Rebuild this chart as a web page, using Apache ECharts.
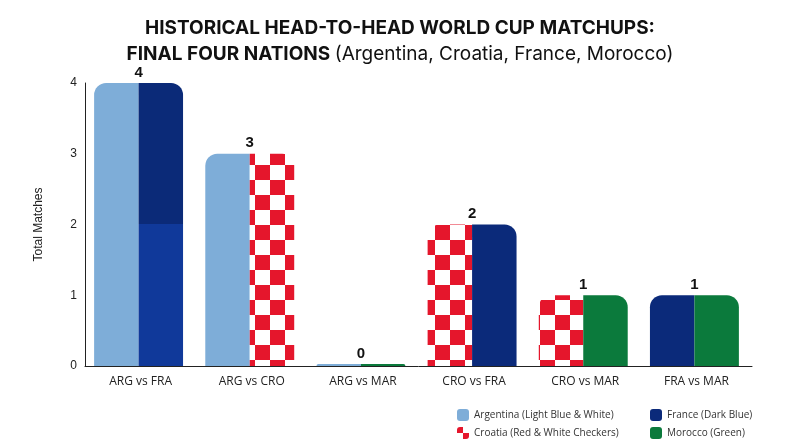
<!DOCTYPE html><html><head><meta charset="utf-8">
<script src="https://cdn.jsdelivr.net/npm/echarts@6/dist/echarts.min.js"></script>
<style>html,body{margin:0;background:#fff}#c{width:800px;height:447px}</style></head><body><div id="c"></div>
<script>
const categories=['ARG vs FRA','ARG vs CRO','ARG vs MAR','CRO vs FRA','CRO vs MAR','FRA vs MAR'];
const totals=[4,3,0,2,1,1];
const leftTeam=['ARG','ARG','ARG','CRO','CRO','FRA'];
const rightTeam=['FRA','CRO','MAR','FRA','MAR','MAR'];
const yTicks=[0,1,2,3,4];
const teamNames={ARG:'Argentina (Light Blue & White)',FRA:'France (Dark Blue)',CRO:'Croatia (Red & White Checkers)',MAR:'Morocco (Green)'};

const cv=document.createElement('canvas');cv.width=30;cv.height=30;
const cx=cv.getContext('2d');cx.fillStyle='#fff';cx.fillRect(0,0,30,30);cx.fillStyle='#e5162c';
cx.fillRect(0,0,15,15);cx.fillRect(15,15,15,15);
const sv=document.createElement('canvas');sv.width=12;sv.height=12;
const sx=sv.getContext('2d');sx.fillStyle='#fff';sx.fillRect(0,0,12,12);sx.fillStyle='#e5162c';
sx.fillRect(0,0,6,6);sx.fillRect(6,6,6,6);
const fills={ARG:'#7eadd8',FRA:'#0b2a7a',MAR:'#0b7a3c',CRO:{image:cv,repeat:'repeat'}};
const legendFills={ARG:'#7eadd8',FRA:'#0b2a7a',MAR:'#0b7a3c',CRO:{image:sv,repeat:'repeat'}};
const r=12;
function col(team,i){
  if(i===0&&team==='FRA')return{type:'linear',x:0,y:0,x2:0,y2:1,colorStops:[{offset:0,color:'#0b2a78'},{offset:0.5,color:'#0b2a78'},{offset:0.5,color:'#10399a'},{offset:1,color:'#10399a'}]};
  return fills[team];
}
const leftData=totals.map((v,i)=>({value:v,itemStyle:{color:col(leftTeam[i],i),borderRadius:[r,0,0,0]}}));
const rightData=totals.map((v,i)=>({value:v,itemStyle:{color:col(rightTeam[i],i),borderRadius:[0,r,0,0]}}));
const legendSeries=['ARG','CRO','FRA','MAR'].map(t=>({name:teamNames[t],type:'bar',data:[],itemStyle:{color:legendFills[t]}}));
const lg={itemWidth:12,itemHeight:12,icon:'roundRect',orient:'vertical',itemGap:6,textStyle:{fontSize:10,color:'#333',fontFamily:'Open Sans'}};
echarts.init(document.getElementById('c')).setOption({
  animation:false,
  title:{left:'center',top:10,text:'HISTORICAL HEAD-TO-HEAD WORLD CUP MATCHUPS:\n{b|FINAL FOUR NATIONS} {n|(Argentina, Croatia, France, Morocco)}',
    textStyle:{fontSize:19,fontWeight:'bold',color:'#111',fontFamily:'Inter',lineHeight:26,
      rich:{b:{fontSize:19,fontWeight:'bold',color:'#111',fontFamily:'Inter'},n:{fontSize:19,fontWeight:'normal',color:'#111',fontFamily:'Inter'}}}},
  legend:[Object.assign({data:[teamNames.ARG,teamNames.CRO],left:452,top:404},lg),Object.assign({data:[teamNames.FRA,teamNames.MAR],left:645,top:404},lg)],
  grid:{left:85,right:48,top:83,bottom:81},
  xAxis:{type:'category',data:categories,axisTick:{show:false},axisLine:{lineStyle:{color:'#222'}},axisLabel:{fontSize:12,color:'#222',margin:10,fontFamily:'Open Sans'}},
  yAxis:{type:'value',min:0,max:4,interval:1,name:'Total Matches',nameLocation:'middle',nameGap:40,nameRotate:90,nameTextStyle:{fontSize:12,color:'#222'},
    axisLine:{show:true,lineStyle:{color:'#222'}},splitLine:{show:false},axisLabel:{fontSize:12,color:'#222',formatter:v=>yTicks.includes(v)?v:''}},
  series:[
    {type:'bar',data:leftData,barWidth:'40%',barGap:'0%',barMinHeight:2,
      label:{show:true,position:['100%',-3],align:'center',verticalAlign:'bottom',fontSize:15,fontWeight:'bold',color:'#111'}},
    {type:'bar',data:rightData,barWidth:'40%',barGap:'0%',barMinHeight:2}
  ].concat(legendSeries)
});
</script></body></html>
